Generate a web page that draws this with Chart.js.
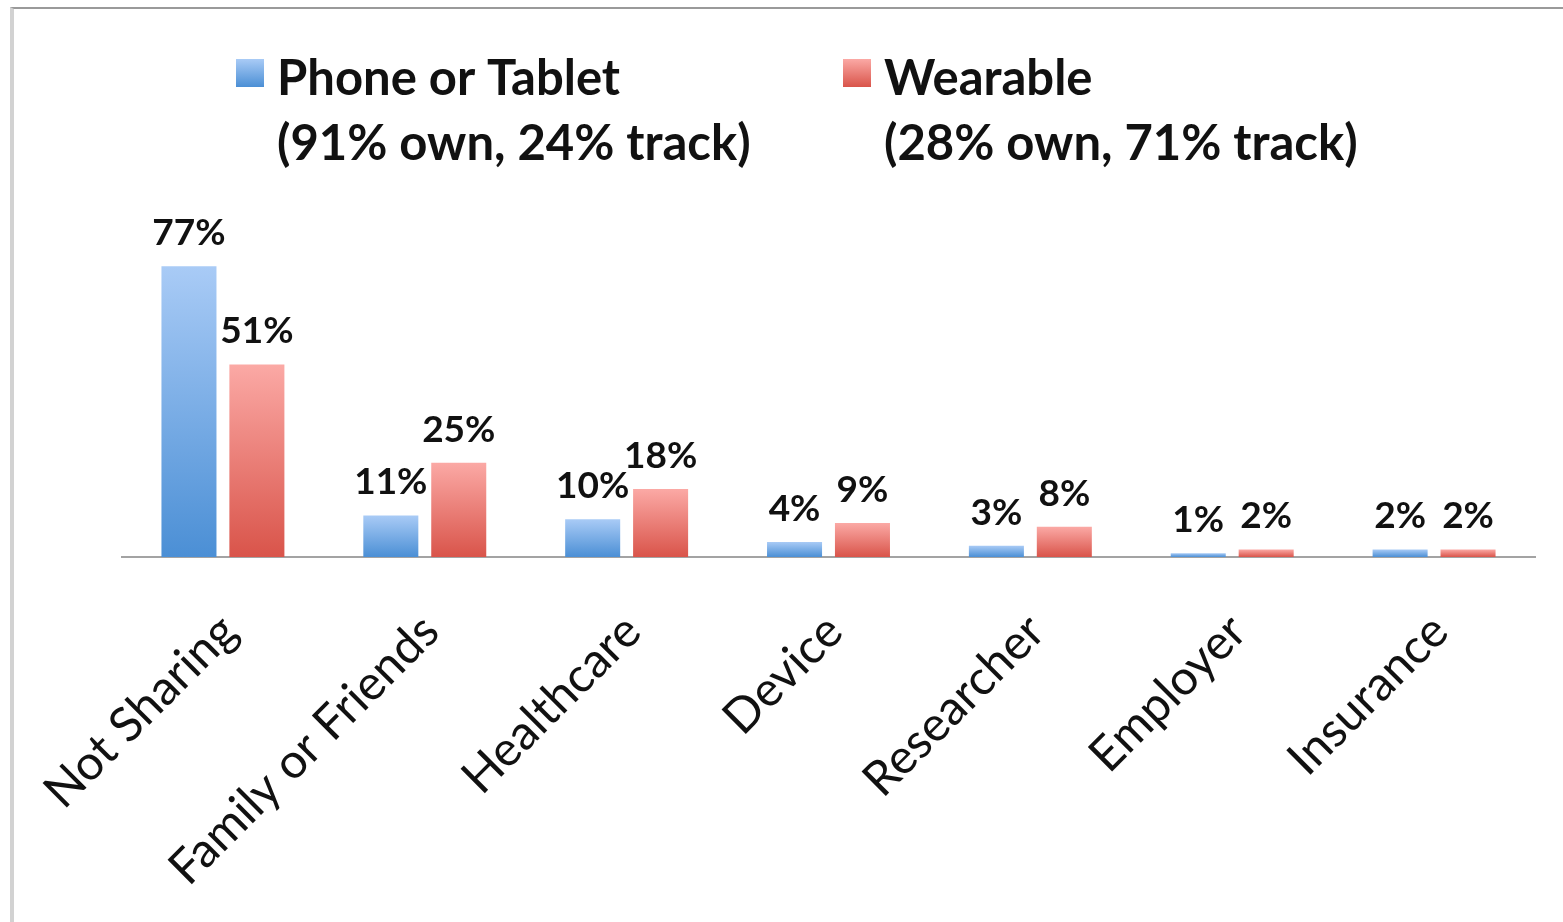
<!DOCTYPE html>
<html>
<head>
<meta charset="utf-8">
<script src="https://cdn.jsdelivr.net/npm/chart.js@4/dist/chart.umd.min.js"></script>
<style>
  html, body { margin: 0; padding: 0; background: #fff; }
  body { width: 1563px; height: 922px; overflow: hidden; position: relative; }
  .frame {
    position: absolute; left: 10px; top: 7px; width: 1600px; height: 1000px;
    border-top: 2px solid #9a9a9a; border-left: 4px solid #d2d2d2;
  }
  .wrap { position: absolute; left: 0; top: 0; width: 1563px; height: 922px; }
</style>
</head>
<body>
<div class="frame"></div>
<div class="wrap"><canvas id="myChart" width="1563" height="922"></canvas></div>
<script>

let categories = ['Not Sharing', 'Family or Friends', 'Healthcare', 'Device', 'Researcher', 'Employer', 'Insurance'];
let phoneValues = [77, 11, 10, 4, 3, 1, 2];
let wearableValues = [51, 25, 18, 9, 8, 2, 2];
let seriesLabels = [
    ['Phone or Tablet', '(91% own, 24% track)'],
    ['Wearable', '(28% own, 71% track)']
];

// light top -> darker bottom, like the office chart
let gradientStops = [
    ['#a9cbf6', '#4b8fd5'],
    ['#fba9a5', '#d9544a']
];

function barGradient(ctx, top, bottom, stops) {
    let g = ctx.createLinearGradient(0, top, 0, bottom);
    g.addColorStop(0, stops[0]);
    g.addColorStop(1, stops[1]);
    return g;
}

// each bar gets its own gradient from its top down to the axis
// (options are shared between bars, so give every bar its own copy)
let gradientBars = {
    id: 'gradientBars',
    beforeDatasetsDraw(chart) {
        chart.data.datasets.forEach(function(ds, i) {
            chart.getDatasetMeta(i).data.forEach(function(bar) {
                let opts = Object.assign({}, bar.options);
                opts.backgroundColor = barGradient(chart.ctx, bar.y, bar.base, gradientStops[i]);
                bar.options = opts;
            });
        });
    }
};

let valueLabels = {
    id: 'valueLabels',
    afterDatasetsDraw(chart) {
        let ctx = chart.ctx;
        ctx.save();
        ctx.font = 'bold 37px Lato';
        ctx.fillStyle = '#111';
        ctx.textAlign = 'center';
        ctx.textBaseline = 'alphabetic';
        chart.data.datasets.forEach(function(ds, i) {
            chart.getDatasetMeta(i).data.forEach(function(bar, j) {
                ctx.fillText(ds.data[j] + '%', bar.x, bar.y - 21);
            });
        });
        ctx.restore();
    }
};

let twoLineLegend = {
    id: 'twoLineLegend',
    afterDraw(chart) {
        let ctx = chart.ctx;
        let xs = [236, 843];
        ctx.save();
        ctx.font = 'bold 49px Lato';
        ctx.textBaseline = 'alphabetic';
        seriesLabels.forEach(function(lines, i) {
            ctx.fillStyle = barGradient(ctx, 59, 87, gradientStops[i]);
            ctx.fillRect(xs[i], 59, 28, 28);
            ctx.fillStyle = '#111';
            lines.forEach(function(line, k) {
                ctx.fillText(line, xs[i] + 41, 95 + k * 65);
            });
        });
        ctx.restore();
    }
};

var ctx = document.getElementById('myChart').getContext('2d');

var chart = new Chart(ctx, {
    type: 'bar',
    data: {
        labels: categories,
        datasets: [{
            label: seriesLabels[0].join(' '),
            data: phoneValues,
            backgroundColor: gradientStops[0][1]
        }, {
            label: seriesLabels[1].join(' '),
            data: wearableValues,
            backgroundColor: gradientStops[1][1]
        }]
    },
    options: {
        responsive: false,
        animation: false,
        layout: {
            padding: { left: 122, right: 28, top: 255, bottom: 0 }
        },
        datasets: {
            bar: { categoryPercentage: 0.673, barPercentage: 0.81 }
        },
        plugins: {
            legend: { display: false },
            tooltip: { enabled: false }
        },
        scales: {
            x: {
                grid: { display: false },
                border: { display: true, color: '#a3a3a3', width: 2 },
                ticks: {
                    color: '#111',
                    font: { family: 'Lato', size: 48 },
                    maxRotation: 45,
                    minRotation: 45,
                    padding: 38,
                    labelOffset: 6
                },
                // room for the slanted labels below the axis
                afterFit: function(scale) {
                    scale.height = 365;
                }
            },
            y: {
                display: false,
                min: 0,
                max: 80
            }
        }
    },
    plugins: [gradientBars, valueLabels, twoLineLegend]
});
</script>
</body>
</html>
